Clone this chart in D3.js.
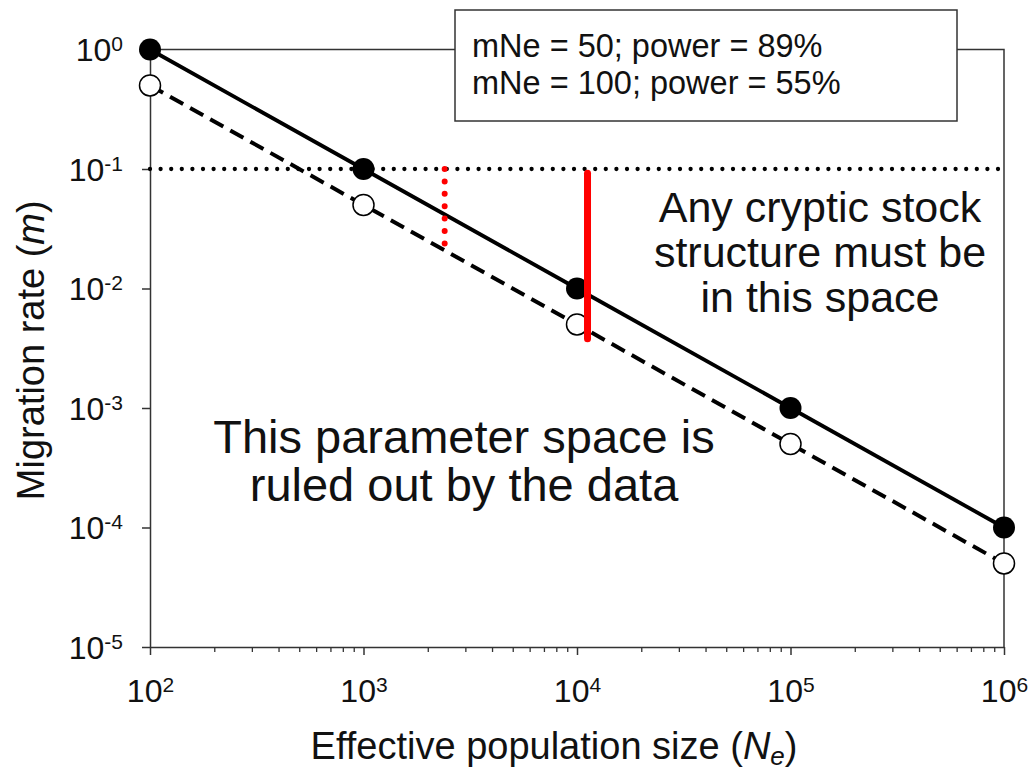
<!DOCTYPE html>
<html>
<head>
<meta charset="utf-8">
<script src="https://cdn.jsdelivr.net/npm/d3@7"></script>
<style>
  body { margin: 0; background: #fff; }
  svg { display: block; font-family: "Liberation Sans", Arial, sans-serif; }
</style>
</head>
<body>
<div id="chart"></div>
<script>
// Datos del grafico
const NE_VALUES = [1e2, 1e3, 1e4, 1e5, 1e6];
const M_NE100 = [1, 0.1, 0.01, 0.001, 0.0001];          // mNe = 100 (circulos negros)
const M_NE50 = [0.5, 0.05, 0.005, 0.0005, 0.00005];     // mNe = 50 (circulos blancos)
const THRESHOLD_M = 0.1;
const RED_DOTTED = [[2400, 0.1], [2400, 0.022]];
const RED_SOLID = [[11200, 0.092], [11200, 0.0038]];
const X_TICKS = [1e2, 1e3, 1e4, 1e5, 1e6];
const Y_TICKS = [1, 0.1, 0.01, 0.001, 0.0001, 0.00001];
const LEGEND_LINES = ["mNe = 50; power = 89%", "mNe = 100; power = 55%"];
const NOTE_RIGHT = ["Any cryptic stock", "structure must be", "in this space"];
const NOTE_LEFT = ["This parameter space is", "ruled out by the data"];

const WIDTH = 1030;
const HEIGHT = 773;
const AXIS_COLOR = "#333";

const svg = d3.select("#chart").append("svg")
    .attr("width", WIDTH)
    .attr("height", HEIGHT);

// Escalas logaritmicas
const x = d3.scaleLog().domain([1e2, 1e6]).range([150, 1004]);
const y = d3.scaleLog().domain([1e-5, 1]).range([647, 49.5]);

// Ticks menores del eje x (2..9 por decada)
const xMinor = [];
for (let k = 2; k < 6; k++) {
    for (let j = 2; j <= 9; j++) xMinor.push(j * Math.pow(10, k));
}

// Marco superior y derecho
svg.append("path")
    .attr("d", `M${x(1e2)},${y(1)}H${x(1e6)}V${y(1e-5)}`)
    .attr("fill", "none")
    .attr("stroke", AXIS_COLOR)
    .attr("stroke-width", 1.5);

// Eje x: ticks menores
svg.append("g")
    .attr("transform", `translate(0,${y(1e-5)})`)
    .call(d3.axisBottom(x).tickValues(xMinor).tickSize(5).tickSizeOuter(0).tickFormat(""))
    .call(g => g.select(".domain").remove())
    .call(g => g.selectAll("line").attr("stroke", AXIS_COLOR).attr("stroke-width", 1.3));

// Funcion para poner etiquetas tipo 10^n
function powerLabel(sel) {
    sel.text(null).each(function(d) {
        const t = d3.select(this);
        t.append("tspan").text("10");
        t.append("tspan")
            .attr("dy", -10)
            .attr("font-size", 21)
            .text(Math.round(Math.log10(d)));
    });
}

// Eje x: ticks mayores
svg.append("g")
    .attr("transform", `translate(0,${y(1e-5)})`)
    .call(d3.axisBottom(x).tickValues(X_TICKS).tickSize(8).tickSizeOuter(0))
    .call(g => g.select(".domain").attr("stroke", AXIS_COLOR).attr("stroke-width", 1.5))
    .call(g => g.selectAll("line").attr("stroke", AXIS_COLOR).attr("stroke-width", 1.5))
    .call(g => g.selectAll("text")
        .attr("y", 55)
        .attr("dy", null)
        .attr("font-size", 32)
        .attr("fill", "#111")
        .attr("font-family", "Liberation Sans, Arial, sans-serif")
        .call(powerLabel));

// Eje y
svg.append("g")
    .attr("transform", `translate(${x(1e2)},0)`)
    .call(d3.axisLeft(y).tickValues(Y_TICKS).tickSize(8).tickSizeOuter(0))
    .call(g => g.select(".domain").attr("stroke", AXIS_COLOR).attr("stroke-width", 1.5))
    .call(g => g.selectAll("line").attr("stroke", AXIS_COLOR).attr("stroke-width", 1.5))
    .call(g => g.selectAll("text")
        .attr("x", -27)
        .attr("dy", 11)
        .attr("font-size", 32)
        .attr("fill", "#111")
        .attr("font-family", "Liberation Sans, Arial, sans-serif")
        .call(powerLabel));

// Titulos de los ejes
const xTitle = svg.append("text")
    .attr("x", 554)
    .attr("y", 759)
    .attr("text-anchor", "middle")
    .attr("font-size", 38)
    .attr("fill", "#111");
xTitle.append("tspan").text("Effective population size (");
xTitle.append("tspan").attr("font-style", "italic").text("N");
xTitle.append("tspan").attr("font-style", "italic").attr("font-size", 26).attr("dy", 6).text("e");
xTitle.append("tspan").attr("dy", -6).text(")");

const yTitle = svg.append("text")
    .attr("transform", `translate(44,${(y(1) + y(1e-5)) / 2 + 2}) rotate(-90)`)
    .attr("text-anchor", "middle")
    .attr("font-size", 38)
    .attr("fill", "#111");
yTitle.append("tspan").text("Migration rate (");
yTitle.append("tspan").attr("font-style", "italic").text("m");
yTitle.append("tspan").text(")");

// Linea punteada horizontal en m = 0.1
svg.append("line")
    .attr("x1", x(1e2)).attr("x2", x(1e6))
    .attr("y1", y(THRESHOLD_M)).attr("y2", y(THRESHOLD_M))
    .attr("stroke", "#000")
    .attr("stroke-width", 4.3)
    .attr("stroke-linecap", "round")
    .attr("stroke-dasharray", "0,10.6");

// Lineas de los datos
const lineGen = d3.line().x(d => x(d[0])).y(d => y(d[1]));
const solidData = NE_VALUES.map((d, i) => [d, M_NE100[i]]);
const dashedData = NE_VALUES.map((d, i) => [d, M_NE50[i]]);

svg.append("path")
    .datum(dashedData)
    .attr("d", lineGen)
    .attr("fill", "none")
    .attr("stroke", "#000")
    .attr("stroke-width", 4)
    .attr("stroke-dasharray", "15,8");

svg.append("path")
    .datum(solidData)
    .attr("d", lineGen)
    .attr("fill", "none")
    .attr("stroke", "#000")
    .attr("stroke-width", 3.8);

// Circulos
svg.append("g")
    .selectAll("circle")
    .data(dashedData)
    .enter().append("circle")
    .attr("cx", d => x(d[0]))
    .attr("cy", d => y(d[1]))
    .attr("r", 10.5)
    .attr("fill", "#fff")
    .attr("stroke", "#000")
    .attr("stroke-width", 1.5);

svg.append("g")
    .selectAll("circle")
    .data(solidData)
    .enter().append("circle")
    .attr("cx", d => x(d[0]))
    .attr("cy", d => y(d[1]))
    .attr("r", 11)
    .attr("fill", "#000");

// Lineas rojas
svg.append("path")
    .datum(RED_DOTTED)
    .attr("d", lineGen)
    .attr("fill", "none")
    .attr("stroke", "#f00")
    .attr("stroke-width", 6)
    .attr("stroke-linecap", "round")
    .attr("stroke-dasharray", "0,12.4");

svg.append("path")
    .datum(RED_SOLID)
    .attr("d", lineGen)
    .attr("fill", "none")
    .attr("stroke", "#f00")
    .attr("stroke-width", 7)
    .attr("stroke-linecap", "round");

// Leyenda
const legend = svg.append("g").attr("transform", "translate(455,10)");
legend.append("rect")
    .attr("width", 502)
    .attr("height", 111)
    .attr("fill", "#fff")
    .attr("stroke", AXIS_COLOR)
    .attr("stroke-width", 1.5);
legend.selectAll("text")
    .data(LEGEND_LINES)
    .enter().append("text")
    .attr("x", 17)
    .attr("y", (d, i) => 47 + i * 37)
    .attr("font-size", 32.5)
    .attr("fill", "#111")
    .text(d => d);

// Anotaciones
svg.append("g")
    .selectAll("text")
    .data(NOTE_RIGHT)
    .enter().append("text")
    .attr("x", 820)
    .attr("y", (d, i) => 222 + i * 45)
    .attr("text-anchor", "middle")
    .attr("font-size", 43)
    .attr("fill", "#111")
    .text(d => d);

svg.append("g")
    .selectAll("text")
    .data(NOTE_LEFT)
    .enter().append("text")
    .attr("x", 464)
    .attr("y", (d, i) => 453 + i * 48)
    .attr("text-anchor", "middle")
    .attr("font-size", 47)
    .attr("fill", "#111")
    .text(d => d);
</script>
</body>
</html>
